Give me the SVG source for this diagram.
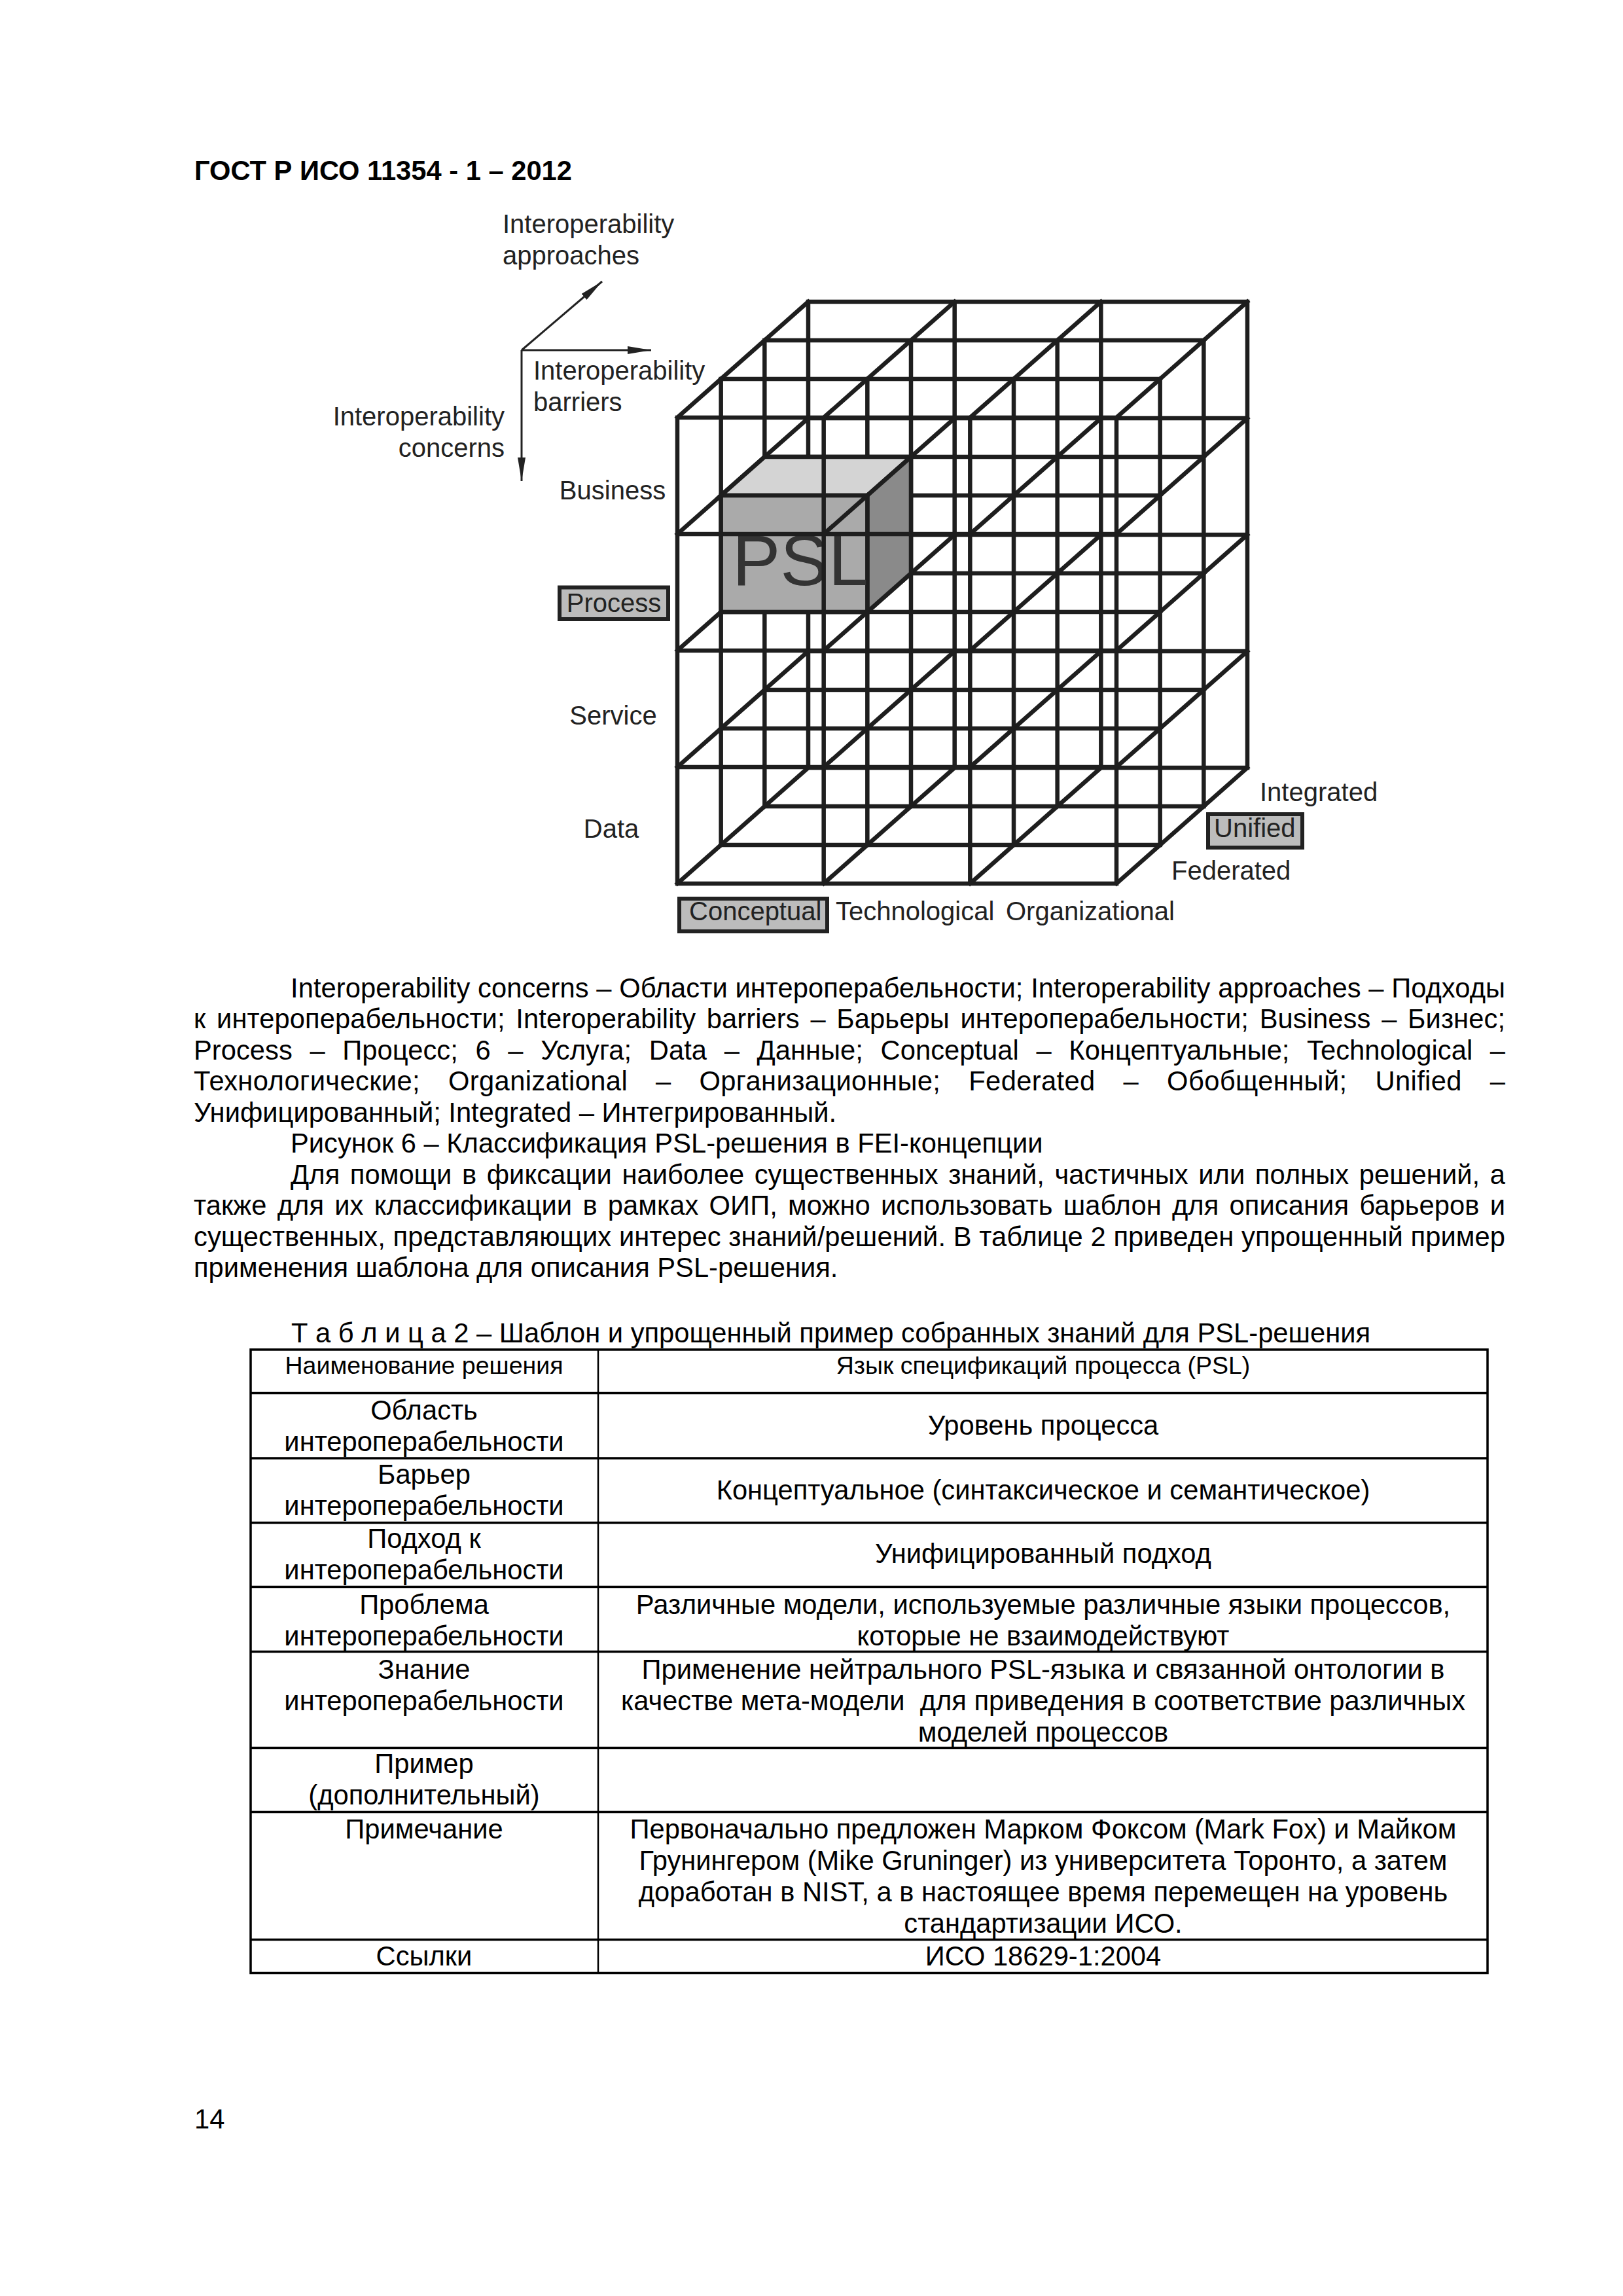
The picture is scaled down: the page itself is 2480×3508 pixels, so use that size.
<svg xmlns="http://www.w3.org/2000/svg" xmlns:xlink="http://www.w3.org/1999/xlink" width="2480" height="3508" viewBox="0 0 2480 3508">
<style>
.t{font-family:"Liberation Sans",Arial,sans-serif;fill:#000}
.lbl{font-family:"Liberation Sans",Arial,sans-serif;font-size:40px;fill:#222}
.body{font-size:41.7px}
.th{font-size:37.5px}
.c{text-anchor:middle}
.grid{fill:none;stroke:#1e1e1e;stroke-width:6.5;stroke-linecap:square}
.tag{fill:#bcbcbc;stroke:#222;stroke-width:6}
.ax{stroke:#222;stroke-width:3;fill:none;marker-end:url(#ah)}
.tb{stroke:#000;stroke-width:3.5;fill:none}
.tv{stroke:#000;stroke-width:2.5;fill:none}
</style>
<defs>
<marker id="ah" viewBox="0 0 36 12" refX="36" refY="6" markerWidth="36" markerHeight="12" markerUnits="userSpaceOnUse" orient="auto">
<path d="M0,0 L36,6 L0,12 z" fill="#222"/>
</marker>
<path id="plane" d="M1035,638V1350M1258.67,638V1350M1482.33,638V1350M1706,638V1350M1035,638H1706M1035,816H1706M1035,994H1706M1035,1172H1706M1035,1350H1706"/>
<path id="dseg" d="M1035,638l66.67,-59M1035,816l66.67,-59M1035,994l66.67,-59M1035,1172l66.67,-59M1035,1350l66.67,-59M1258.67,638l66.67,-59M1258.67,816l66.67,-59M1258.67,994l66.67,-59M1258.67,1172l66.67,-59M1258.67,1350l66.67,-59M1482.33,638l66.67,-59M1482.33,816l66.67,-59M1482.33,994l66.67,-59M1482.33,1172l66.67,-59M1482.33,1350l66.67,-59M1706,638l66.67,-59M1706,816l66.67,-59M1706,994l66.67,-59M1706,1172l66.67,-59M1706,1350l66.67,-59"/>
</defs>
<rect width="2480" height="3508" fill="#fff"/>

<g id="header">
<text class="t" x="297" y="275" font-size="41.7" font-weight="bold">ГОСТ Р ИСО 11354 - 1 – 2012</text>
</g>

<g id="connectors">
<line class="ax" x1="797" y1="535" x2="995" y2="535"/>
<line class="ax" x1="797" y1="535" x2="797" y2="735"/>
<line class="ax" x1="797" y1="535" x2="920" y2="430"/>
</g>

<g id="axis-labels">
<text class="lbl" x="768" y="356">Interoperability</text>
<text class="lbl" x="768" y="404">approaches</text>
<text class="lbl" x="815" y="580">Interoperability</text>
<text class="lbl" x="815" y="628">barriers</text>
<text class="lbl" x="771" y="650" text-anchor="end">Interoperability</text>
<text class="lbl" x="771" y="698" text-anchor="end">concerns</text>
</g>

<g id="cube">
<g id="cube-back" class="grid">
<use xlink:href="#plane" transform="translate(200,-177)"/>
<use xlink:href="#plane" transform="translate(133.33,-118)"/>
<use xlink:href="#plane" transform="translate(66.67,-59)"/>
<use xlink:href="#dseg" transform="translate(133.33,-118)"/>
<use xlink:href="#dseg" transform="translate(66.67,-59)"/>
</g>
<g id="psl">
<polygon points="1101.67,757 1168.33,698 1392,698 1325.33,757" fill="#d4d4d4" stroke="#1e1e1e" stroke-width="6.5"/>
<polygon points="1325.33,757 1392,698 1392,876 1325.33,935" fill="#8a8a8a" stroke="#1e1e1e" stroke-width="6.5"/>
<polygon points="1101.67,757 1325.33,757 1325.33,935 1101.67,935" fill="#aaaaaa" stroke="#1e1e1e" stroke-width="6.5"/>
<text x="1119" y="894" font-family="'Liberation Sans',Arial,sans-serif" font-size="110" fill="#333">PSL</text>
</g>
<g id="cube-front" class="grid">
<use xlink:href="#plane"/>
<use xlink:href="#dseg"/>
</g>
</g>

<g id="row-labels">
<text class="lbl c" x="936" y="763">Business</text>
<g id="process"><rect class="tag" x="855" y="897.5" width="166" height="48.5"/><text class="lbl c" x="938" y="934.5">Process</text></g>
<text class="lbl c" x="937" y="1107">Service</text>
<text class="lbl c" x="934" y="1280">Data</text>
</g>

<g id="col-labels">
<g id="conceptual"><rect class="tag" x="1038" y="1373" width="226" height="50"/><text class="lbl" x="1053" y="1406">Conceptual</text></g>
<text class="lbl" x="1277" y="1406">Technological</text>
<text class="lbl" x="1537" y="1406">Organizational</text>
</g>

<g id="depth-labels">
<text class="lbl" x="1925" y="1224">Integrated</text>
<g id="unified"><rect class="tag" x="1846" y="1244" width="144" height="51"/><text class="lbl" x="1855" y="1279">Unified</text></g>
<text class="lbl" x="1790" y="1344">Federated</text>
</g>

<g id="caption" class="t body">
<text x="444" y="1523.5" textLength="1856" lengthAdjust="spacing">Interoperability concerns – Области интероперабельности; Interoperability approaches – Подходы</text>
<text x="296" y="1571" textLength="2004" lengthAdjust="spacing" word-spacing="5">к интероперабельности; Interoperability barriers – Барьеры интероперабельности; Business – Бизнес;</text>
<text x="296" y="1618.5" textLength="2004" lengthAdjust="spacing" word-spacing="15">Process – Процесс; 6 – Услуга; Data – Данные; Conceptual – Концептуальные; Technological –</text>
<text x="296" y="1666" textLength="2004" lengthAdjust="spacing" word-spacing="31">Технологические; Organizational – Организационные; Federated – Обобщенный; Unified –</text>
<text x="296" y="1713.5">Унифицированный; Integrated – Интегрированный.</text>
<text x="444" y="1761">Рисунок 6 – Классификация PSL-решения в FEI-концепции</text>
<text x="444" y="1808.5" textLength="1856" lengthAdjust="spacing" word-spacing="4">Для помощи в фиксации наиболее существенных знаний, частичных или полных решений, а</text>
<text x="296" y="1856" textLength="2004" lengthAdjust="spacing" word-spacing="4.5">также для их классификации в рамках ОИП, можно использовать шаблон для описания барьеров и</text>
<text x="296" y="1903.5" textLength="2004" lengthAdjust="spacing">существенных, представляющих интерес знаний/решений. В таблице 2 приведен упрощенный пример</text>
<text x="296" y="1951">применения шаблона для описания PSL-решения.</text>
</g>

<g id="table">
<text class="t body" x="445" y="2051">Т а б л и ц а 2 – Шаблон и упрощенный пример собранных знаний для PSL-решения</text>
<g id="table-lines">
<rect class="tb" x="383" y="2062" width="1890" height="952.5"/>
<line class="tv" x1="914" y1="2062" x2="914" y2="3014.5"/>
<path class="tb" d="M383,2128.5H2273M383,2228H2273M383,2326.5H2273M383,2424.5H2273M383,2523.5H2273M383,2670.5H2273M383,2768.5H2273M383,2963.5H2273"/>
</g>
<g id="table-text" class="t body c">
<text class="th" x="648" y="2099">Наименование решения</text>
<text class="th" x="1594" y="2099">Язык спецификаций процесса (PSL)</text>
<text x="648" y="2168.5">Область</text>
<text x="648" y="2216.5">интероперабельности</text>
<text x="1594" y="2192">Уровень процесса</text>
<text x="648" y="2267">Барьер</text>
<text x="648" y="2315">интероперабельности</text>
<text x="1594" y="2291">Концептуальное (синтаксическое и семантическое)</text>
<text x="648" y="2365">Подход к</text>
<text x="648" y="2413">интероперабельности</text>
<text x="1594" y="2388">Унифицированный подход</text>
<text x="648" y="2466">Проблема</text>
<text x="648" y="2514">интероперабельности</text>
<text x="1594" y="2466">Различные модели, используемые различные языки процессов,</text>
<text x="1594" y="2514">которые не взаимодействуют</text>
<text x="648" y="2564.5">Знание</text>
<text x="648" y="2612.5">интероперабельности</text>
<text x="1594" y="2564.5">Применение нейтрального PSL-языка и связанной онтологии в</text>
<text x="1594" y="2612.5" style="white-space:pre">качестве мета-модели  для приведения в соответствие различных</text>
<text x="1594" y="2660.5">моделей процессов</text>
<text x="648" y="2709">Пример</text>
<text x="648" y="2757">(дополнительный)</text>
<text x="648" y="2809">Примечание</text>
<text x="1594" y="2809">Первоначально предложен Марком Фоксом (Mark Fox) и Майком</text>
<text x="1594" y="2857">Грунингером (Mike Gruninger) из университета Торонто, а затем</text>
<text x="1594" y="2905">доработан в NIST, а в настоящее время перемещен на уровень</text>
<text x="1594" y="2953">стандартизации ИСО.</text>
<text x="648" y="3003">Ссылки</text>
<text x="1594" y="3003">ИСО 18629-1:2004</text>
</g>
</g>

<g id="page-number">
<text class="t body" x="297" y="3252">14</text>
</g>
</svg>
